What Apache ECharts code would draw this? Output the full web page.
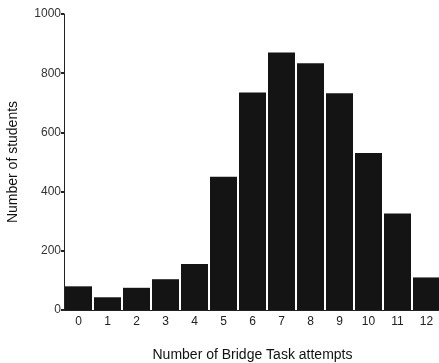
<!DOCTYPE html>
<html><head><meta charset="utf-8">
<script src="https://cdn.jsdelivr.net/npm/echarts@6/dist/echarts.min.js"></script>
<style>html,body{margin:0;padding:0;background:#fff}#c{width:439px;height:363px}</style>
</head><body><div id="c"></div>
<script>
const categories = ['0','1','2','3','4','5','6','7','8','9','10','11','12'];
const students = [80, 43, 75, 104, 155, 450, 735, 870, 834, 732, 530, 326, 110];
const yTicks = [0, 200, 400, 600, 800, 1000];

const chart = echarts.init(document.getElementById('c'));
chart.setOption({
  animation: false,
  grid: { left: 64, top: 14, width: 377, height: 296, containLabel: false, outerBoundsMode: 'none' },
  xAxis: {
    type: 'category', data: categories,
    name: 'Number of Bridge Task attempts', nameLocation: 'middle', nameGap: 38,
    nameTextStyle: { fontFamily: 'Liberation Sans', fontSize: 14, color: '#111' },
    axisLine: { lineStyle: { color: '#222', width: 1 } },
    axisTick: { alignWithLabel: true, length: 3, lineStyle: { color: '#222', width: 1.5 } },
    axisLabel: { fontFamily: 'Liberation Sans', fontSize: 12, color: '#222', margin: 6 }
  },
  yAxis: {
    type: 'value', min: yTicks[0], max: yTicks[yTicks.length-1], interval: 200,
    name: 'Number of students', nameLocation: 'middle', nameGap: 44,
    nameTextStyle: { fontFamily: 'Liberation Sans', fontSize: 14, color: '#111' },
    axisLine: { show: true, lineStyle: { color: '#222', width: 1 } },
    axisTick: { show: true, length: 3, lineStyle: { color: '#222', width: 2 } },
    axisLabel: { fontFamily: 'Liberation Sans', fontSize: 12, color: '#333', margin: 3,
      formatter: v => String(v) },
    splitLine: { show: false }
  },
  series: [{
    type: 'bar', data: students, barWidth: 27,
    itemStyle: { color: '#141414' }
  }]
});
</script></body></html>
